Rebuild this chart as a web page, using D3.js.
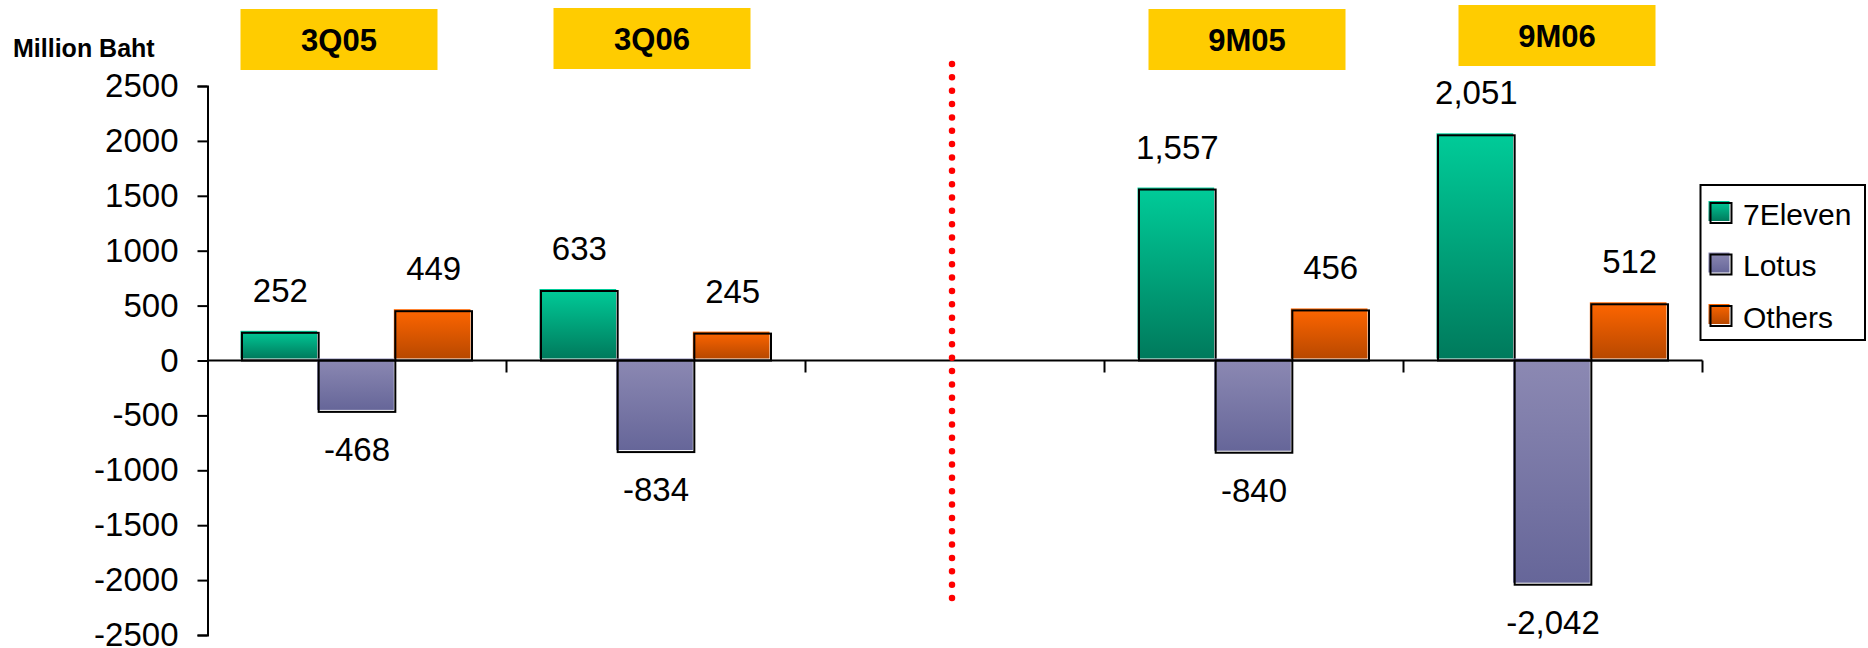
<!DOCTYPE html>
<html>
<head>
<meta charset="utf-8">
<script src="https://cdn.jsdelivr.net/npm/d3@7"></script>
<style>
  html, body { margin: 0; padding: 0; background: #ffffff; }
  svg { display: block; font-family: "Liberation Sans", Arial, sans-serif; }
</style>
</head>
<body>
<svg id="chart" width="1868" height="648"></svg>
<script>
// Net change in sales by retailer, million Baht
const periods = ["3Q05", "3Q06", "", "9M05", "9M06"];
const seriesNames = ["7Eleven", "Lotus", "Others"];
const sevenEleven = [252, 633, null, 1557, 2051];
const lotus = [-468, -834, null, -840, -2042];
const others = [449, 245, null, 456, 512];
const yTicks = [2500, 2000, 1500, 1000, 500, 0, -500, -1000, -1500, -2000, -2500];
const unitLabel = "Million Baht";

const seriesValues = [sevenEleven, lotus, others];

// Gradient stops (top, bottom) per series
const seriesColors = [
  ["#00cc99", "#007a5c"],
  ["#8c89b3", "#666699"],
  ["#ff6600", "#b84800"]
];

// Header box placement tweaks (px) for each period
const headerShift = [-18, -4, 0, -7, 4];
const headerTop = [9, 8, 0, 9, 5];

const fmt = d3.formatLocale({ decimal: ".", thousands: ",", grouping: [3], currency: ["", ""], minus: "-" });
const valueFmt = fmt.format(",");
const tickFmt = fmt.format("d");

const svg = d3.select("#chart");

const x = d3.scaleBand().domain(periods).range([207.5, 1702.5]).paddingInner(0).paddingOuter(0);
const xs = d3.scaleBand().domain(seriesNames).range([0, x.bandwidth()]).paddingInner(0).paddingOuter(0.45);
const y = d3.scaleLinear().domain([-2500, 2500]).range([635, 86]);

// gradients
const defs = svg.append("defs");
seriesNames.forEach((s, i) => {
  const g = defs.append("linearGradient")
    .attr("id", "grad" + i)
    .attr("x1", 0).attr("y1", 0).attr("x2", 0).attr("y2", 1);
  g.append("stop").attr("offset", "0%").attr("stop-color", seriesColors[i][0]);
  g.append("stop").attr("offset", "100%").attr("stop-color", seriesColors[i][1]);
});

// flatten data
const bars = [];
periods.forEach((p, pi) => {
  seriesNames.forEach((s, si) => {
    const v = seriesValues[si][pi];
    if (v !== null && v !== undefined) bars.push({ period: p, series: s, si, value: v });
  });
});

// y axis
const yAxis = d3.axisLeft(y).tickValues(yTicks).tickFormat(tickFmt).tickSize(10).tickPadding(19);
const yg = svg.append("g").attr("transform", "translate(207.5,0)").call(yAxis);
yg.select(".domain").attr("stroke", "#000").attr("stroke-width", 2);
yg.selectAll(".tick line").attr("stroke", "#000").attr("stroke-width", 2);
yg.selectAll(".tick text").attr("font-size", 33).attr("fill", "#000")
  .attr("font-family", "'Liberation Sans', Arial, sans-serif");

// bars: fill shifted up-left, outline on the value rectangle
const barG = svg.append("g");
bars.forEach(b => {
  const bx = x(b.period) + xs(b.series);
  const w = xs.bandwidth();
  const top = b.value >= 0 ? y(b.value) : y(0);
  const h = Math.abs(y(b.value) - y(0));
  barG.append("rect")
    .attr("x", bx - 1.5).attr("y", top - 2)
    .attr("width", w).attr("height", h)
    .attr("fill", "url(#grad" + b.si + ")");
  barG.append("rect")
    .attr("x", bx).attr("y", top)
    .attr("width", w).attr("height", h)
    .attr("fill", "none").attr("stroke", "#000").attr("stroke-width", 2);
});

// x axis at zero with category boundary ticks
const xLineY = y(0);
svg.append("line")
  .attr("x1", x.range()[0]).attr("x2", x.range()[1])
  .attr("y1", xLineY).attr("y2", xLineY)
  .attr("stroke", "#000").attr("stroke-width", 2);
const bounds = periods.map(p => x(p)).concat([x.range()[1]]).slice(1);
svg.append("g").selectAll("line").data(bounds).join("line")
  .attr("x1", d => d).attr("x2", d => d)
  .attr("y1", xLineY).attr("y2", xLineY + 12)
  .attr("stroke", "#000").attr("stroke-width", 2);

// value labels
svg.append("g").selectAll("text").data(bars).join("text")
  .attr("x", d => x(d.period) + xs(d.series) + xs.bandwidth() / 2)
  .attr("y", d => d.value >= 0 ? y(d.value) - 31 : y(d.value) + 49)
  .attr("text-anchor", "middle")
  .attr("font-size", 33)
  .attr("fill", "#000")
  .text(d => valueFmt(d.value));

// dotted divider between quarterly and nine-month figures
const divX = x(periods[2]) + x.bandwidth() / 2 - 3;
svg.append("line")
  .attr("x1", divX).attr("x2", divX)
  .attr("y1", 64).attr("y2", 600)
  .attr("stroke", "#ff0000")
  .attr("stroke-width", 6.5)
  .attr("stroke-linecap", "round")
  .attr("stroke-dasharray", "0 13.35");

// period header boxes
const headers = periods.map((p, i) => ({ p, i })).filter(d => d.p !== "");
const hg = svg.append("g").selectAll("g").data(headers).join("g")
  .attr("transform", d => `translate(${x(d.p) + x.bandwidth() / 2 + headerShift[d.i]},${headerTop[d.i]})`);
hg.append("rect")
  .attr("x", -98.5).attr("y", 0).attr("width", 197).attr("height", 61)
  .attr("fill", "#ffcc00");
hg.append("text")
  .attr("x", 0).attr("y", 41.5)
  .attr("text-anchor", "middle")
  .attr("font-size", 31).attr("font-weight", "bold")
  .attr("fill", "#000")
  .text(d => d.p);

// unit label
svg.append("text")
  .attr("x", 13).attr("y", 57)
  .attr("font-size", 25).attr("font-weight", "bold")
  .attr("fill", "#000")
  .text(unitLabel);

// legend
const lg = svg.append("g");
lg.append("rect")
  .attr("x", 1700.5).attr("y", 185).attr("width", 164.5).attr("height", 155)
  .attr("fill", "#fff").attr("stroke", "#000").attr("stroke-width", 2);
seriesNames.forEach((s, i) => {
  const cy = 212.5 + i * 51.5;
  lg.append("rect")
    .attr("x", 1708.5).attr("y", cy - 11.5).attr("width", 21).attr("height", 20)
    .attr("fill", "url(#grad" + i + ")");
  lg.append("rect")
    .attr("x", 1710.5).attr("y", cy - 9.5).attr("width", 21).attr("height", 20)
    .attr("fill", "none").attr("stroke", "#000").attr("stroke-width", 2);
  lg.append("text")
    .attr("x", 1743).attr("y", cy + 12)
    .attr("font-size", 30).attr("fill", "#000")
    .text(s);
});
</script>
</body>
</html>
